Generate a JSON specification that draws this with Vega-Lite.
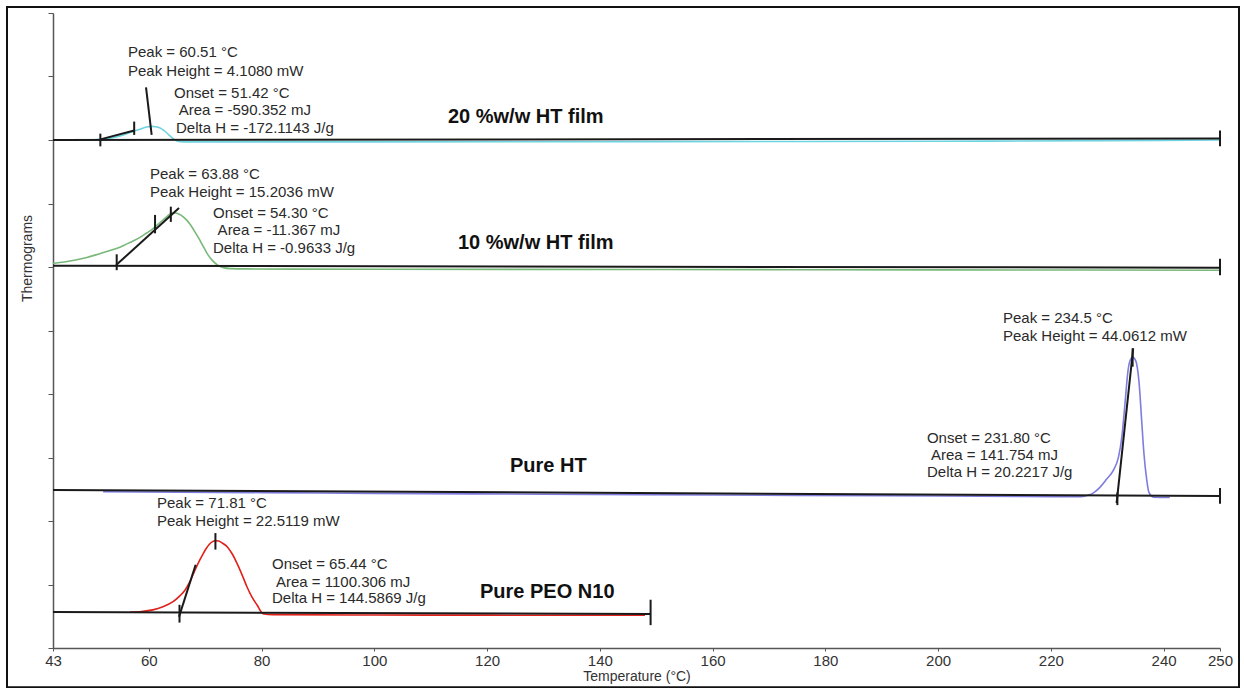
{
  "$schema": "https://vega.github.io/schema/vega-lite/v6.json",
  "width": 1167,
  "height": 635,
  "autosize": {"type": "none"},
  "padding": {"left": 53, "top": 13, "right": 24, "bottom": 40},
  "background": "white",
  "config": {
    "view": {"stroke": null},
    "font": "Liberation Sans",
    "axis": {"grid": false}
  },
  "datasets": {
    "curves": [
      {"s":"c20","T":47.3,"u":8.0},{"s":"c20","T":49.5,"u":8.0},{"s":"c20","T":51.3,"u":8.01},{"s":"c20","T":53.1,"u":8.03},{"s":"c20","T":54.9,"u":8.065},{"s":"c20","T":56.1,"u":8.1},{"s":"c20","T":57.2,"u":8.135},{"s":"c20","T":58.4,"u":8.17},{"s":"c20","T":59.6,"u":8.205},{"s":"c20","T":60.5,"u":8.215},{"s":"c20","T":61.2,"u":8.21},{"s":"c20","T":62.0,"u":8.19},{"s":"c20","T":62.6,"u":8.155},{"s":"c20","T":63.2,"u":8.11},{"s":"c20","T":63.8,"u":8.06},{"s":"c20","T":64.3,"u":8.02},{"s":"c20","T":65.0,"u":7.985},{"s":"c20","T":65.5,"u":7.975},{"s":"c20","T":67,"u":7.97},{"s":"c20","T":100,"u":7.97},{"s":"c20","T":150,"u":7.975},{"s":"c20","T":200,"u":7.98},{"s":"c20","T":230,"u":7.99},{"s":"c20","T":250,"u":8.0},
      {"s":"c10","T":43.0,"u":6.06},{"s":"c10","T":45,"u":6.08},{"s":"c10","T":47,"u":6.11},{"s":"c10","T":49,"u":6.15},{"s":"c10","T":51.3,"u":6.21},{"s":"c10","T":53,"u":6.255},{"s":"c10","T":54.5,"u":6.3},{"s":"c10","T":56,"u":6.36},{"s":"c10","T":57.2,"u":6.41},{"s":"c10","T":58.5,"u":6.47},{"s":"c10","T":59.7,"u":6.54},{"s":"c10","T":60.7,"u":6.6},{"s":"c10","T":61.6,"u":6.67},{"s":"c10","T":62.5,"u":6.74},{"s":"c10","T":63.3,"u":6.8},{"s":"c10","T":64.0,"u":6.845},{"s":"c10","T":64.7,"u":6.85},{"s":"c10","T":65.4,"u":6.83},{"s":"c10","T":66.1,"u":6.79},{"s":"c10","T":66.8,"u":6.73},{"s":"c10","T":67.5,"u":6.65},{"s":"c10","T":68.2,"u":6.55},{"s":"c10","T":69.0,"u":6.43},{"s":"c10","T":69.8,"u":6.3},{"s":"c10","T":70.5,"u":6.19},{"s":"c10","T":71.3,"u":6.1},{"s":"c10","T":72.2,"u":6.03},{"s":"c10","T":73.2,"u":5.99},{"s":"c10","T":74.5,"u":5.975},{"s":"c10","T":77,"u":5.97},{"s":"c10","T":100,"u":5.965},{"s":"c10","T":150,"u":5.96},{"s":"c10","T":200,"u":5.955},{"s":"c10","T":250,"u":5.95},
      {"s":"cHT","T":51.9,"u":2.46},{"s":"cHT","T":80,"u":2.447},{"s":"cHT","T":100,"u":2.435},{"s":"cHT","T":130,"u":2.422},{"s":"cHT","T":160,"u":2.41},{"s":"cHT","T":190,"u":2.398},{"s":"cHT","T":215,"u":2.388},{"s":"cHT","T":225.2,"u":2.382},{"s":"cHT","T":226.4,"u":2.4},{"s":"cHT","T":227.5,"u":2.44},{"s":"cHT","T":228.7,"u":2.53},{"s":"cHT","T":229.9,"u":2.66},{"s":"cHT","T":231.1,"u":2.8},{"s":"cHT","T":232.0,"u":3.01},{"s":"cHT","T":232.6,"u":3.33},{"s":"cHT","T":233.15,"u":3.85},{"s":"cHT","T":233.7,"u":4.38},{"s":"cHT","T":234.1,"u":4.54},{"s":"cHT","T":234.5,"u":4.58},{"s":"cHT","T":234.9,"u":4.55},{"s":"cHT","T":235.2,"u":4.48},{"s":"cHT","T":235.7,"u":4.12},{"s":"cHT","T":236.1,"u":3.59},{"s":"cHT","T":236.5,"u":3.07},{"s":"cHT","T":237.0,"u":2.65},{"s":"cHT","T":237.4,"u":2.45},{"s":"cHT","T":238.2,"u":2.375},{"s":"cHT","T":241.1,"u":2.37},
      {"s":"cPEO","T":56.7,"u":0.567},{"s":"cPEO","T":58.7,"u":0.575},{"s":"cPEO","T":60.7,"u":0.6},{"s":"cPEO","T":62.5,"u":0.65},{"s":"cPEO","T":64.3,"u":0.73},{"s":"cPEO","T":65.5,"u":0.82},{"s":"cPEO","T":66.4,"u":0.91},{"s":"cPEO","T":67.3,"u":1.05},{"s":"cPEO","T":68.2,"u":1.23},{"s":"cPEO","T":69.0,"u":1.38},{"s":"cPEO","T":69.6,"u":1.48},{"s":"cPEO","T":70.2,"u":1.57},{"s":"cPEO","T":70.7,"u":1.63},{"s":"cPEO","T":71.3,"u":1.675},{"s":"cPEO","T":71.8,"u":1.69},{"s":"cPEO","T":72.4,"u":1.685},{"s":"cPEO","T":72.9,"u":1.66},{"s":"cPEO","T":73.9,"u":1.595},{"s":"cPEO","T":74.8,"u":1.48},{"s":"cPEO","T":75.6,"u":1.34},{"s":"cPEO","T":76.5,"u":1.16},{"s":"cPEO","T":77.4,"u":0.965},{"s":"cPEO","T":78.3,"u":0.8},{"s":"cPEO","T":79.2,"u":0.677},{"s":"cPEO","T":80.25,"u":0.54},{"s":"cPEO","T":82,"u":0.525},{"s":"cPEO","T":100,"u":0.52},{"s":"cPEO","T":120,"u":0.517},{"s":"cPEO","T":148,"u":0.515}
    ],
    "segments": [
      {"a":43,"b":8.0,"a2":250,"b2":8.025},
      {"a":51.4,"b":8.1,"a2":51.4,"b2":7.9},
      {"a":51.4,"b":8.01,"a2":57.4,"b2":8.15},
      {"a":57.4,"b":8.29,"a2":57.4,"b2":8.08},
      {"a":59.5,"b":8.83,"a2":60.5,"b2":8.08},
      {"a":250,"b":8.15,"a2":250,"b2":7.9},
      {"a":43,"b":6.02,"a2":250,"b2":5.99},
      {"a":54.3,"b":6.2,"a2":54.3,"b2":5.95},
      {"a":54.2,"b":6.03,"a2":65.35,"b2":6.93},
      {"a":61.1,"b":6.82,"a2":61.1,"b2":6.53},
      {"a":63.9,"b":6.95,"a2":63.9,"b2":6.71},
      {"a":250,"b":6.13,"a2":250,"b2":5.87},
      {"a":43,"b":2.488,"a2":250,"b2":2.394},
      {"a":231.66,"b":2.28,"a2":234.6,"b2":4.72},
      {"a":231.8,"b":2.45,"a2":231.8,"b2":2.25},
      {"a":234.5,"b":4.72,"a2":234.5,"b2":4.43},
      {"a":250,"b":2.52,"a2":250,"b2":2.27},
      {"a":43,"b":0.567,"a2":149,"b2":0.535},
      {"a":65.44,"b":0.68,"a2":65.44,"b2":0.4},
      {"a":65.35,"b":0.49,"a2":68.3,"b2":1.31},
      {"a":71.81,"b":1.81,"a2":71.81,"b2":1.55},
      {"a":149,"b":0.76,"a2":149,"b2":0.36}
    ],
    "notes": [
      {"T":56.3,"u":9.386,"t":"Peak = 60.51 °C"},
      {"T":56.3,"u":9.087,"t":"Peak Height  = 4.1080 mW"},
      {"T":64.46,"u":8.74,"t":"Onset = 51.42 °C"},
      {"T":65.3,"u":8.47,"t":"Area = -590.352 mJ"},
      {"T":64.82,"u":8.19,"t":"Delta H = -172.1143 J/g"},
      {"T":60.2,"u":7.465,"t":"Peak = 63.88 °C"},
      {"T":60.2,"u":7.18,"t":"Peak Height  = 15.2036 mW"},
      {"T":71.38,"u":6.85,"t":"Onset = 54.30 °C"},
      {"T":72.2,"u":6.58,"t":"Area = -11.367 mJ"},
      {"T":71.38,"u":6.3,"t":"Delta H = -0.9633 J/g"},
      {"T":211.5,"u":5.197,"t":"Peak = 234.5 °C"},
      {"T":211.5,"u":4.913,"t":"Peak Height  = 44.0612 mW"},
      {"T":198.02,"u":3.307,"t":"Onset = 231.80 °C"},
      {"T":198.73,"u":3.039,"t":"Area = 141.754 mJ"},
      {"T":198.02,"u":2.772,"t":"Delta H = 20.2217 J/g"},
      {"T":61.45,"u":2.283,"t":"Peak = 71.81 °C"},
      {"T":61.45,"u":2.0,"t":"Peak Height  = 22.5119 mW"},
      {"T":81.84,"u":1.323,"t":"Onset = 65.44 °C"},
      {"T":82.55,"u":1.04,"t":"Area = 1100.306 mJ"},
      {"T":81.84,"u":0.787,"t":"Delta H = 144.5869 J/g"}
    ],
    "names": [
      {"T":113.06,"u":8.36,"t":"20 %w/w HT film"},
      {"T":114.83,"u":6.38,"t":"10 %w/w HT film"},
      {"T":124.06,"u":2.866,"t":"Pure HT"},
      {"T":118.74,"u":0.882,"t":"Pure PEO N10"}
    ]
  },
  "layer": [
    {
      "data": {"values": [{}]},
      "mark": {"type": "rect", "fill": null, "stroke": "#111", "strokeWidth": 2, "clip": false},
      "encoding": {
        "x": {"datum": 34.84, "type": "quantitative", "scale": {"domain": [43, 250], "nice": false, "zero": false}},
        "x2": {"datum": 253.37},
        "y": {"datum": 10.094, "type": "quantitative", "scale": {"domain": [0, 10], "nice": false, "zero": false}},
        "y2": {"datum": -0.62}
      }
    },
    {
      "data": {"name": "curves"},
      "mark": {"type": "line", "interpolate": "monotone"},
      "encoding": {
        "x": {"field": "T", "type": "quantitative", "scale": {"domain": [43, 250], "nice": false, "zero": false},
          "axis": {"values": [43,60,80,100,120,140,160,180,200,220,240,250], "title": "Temperature (°C)",
            "domainColor": "#555", "domainWidth": 1.5, "tickColor": "#555", "tickSize": 3,
            "labelFontSize": 15, "labelColor": "#333", "labelPadding": 2, "labelFlush": false,
            "titleFontSize": 14, "titleFontWeight": "normal", "titleColor": "#333", "titlePadding": 1}},
        "y": {"field": "u", "type": "quantitative", "scale": {"domain": [0, 10], "nice": false, "zero": false},
          "axis": {"values": [0,1,2,3,4,5,6,7,8,9,10], "labels": false, "title": "Thermograms",
            "domainColor": "#555", "domainWidth": 1.5, "tickColor": "#555", "tickSize": 5,
            "titleFontSize": 14, "titleFontWeight": "normal", "titleColor": "#333",
            "titleX": -19, "titleY": 245}},
        "color": {"field": "s", "type": "nominal", "legend": null,
          "scale": {"domain": ["c20","c10","cHT","cPEO"], "range": ["#6fd3e0","#78b878","#7f7ce0","#e02019"]}},
        "strokeWidth": {"field": "s", "type": "nominal", "legend": null,
          "scale": {"domain": ["c20","c10","cHT","cPEO"], "range": [1.6,1.6,2.2,3.2]}},
        "detail": {"field": "s"}
      }
    },
    {
      "data": {"name": "segments"},
      "mark": {"type": "rule", "color": "#1a1a1a", "strokeWidth": 2},
      "encoding": {
        "x": {"field": "a", "type": "quantitative"},
        "x2": {"field": "a2"},
        "y": {"field": "b", "type": "quantitative"},
        "y2": {"field": "b2"}
      }
    },
    {
      "data": {"name": "notes"},
      "mark": {"type": "text", "align": "left", "baseline": "middle", "fontSize": 15, "color": "#2a2a2a", "font": "Liberation Sans"},
      "encoding": {
        "x": {"field": "T", "type": "quantitative"},
        "y": {"field": "u", "type": "quantitative"},
        "text": {"field": "t"}
      }
    },
    {
      "data": {"name": "names"},
      "mark": {"type": "text", "align": "left", "baseline": "middle", "fontSize": 20, "fontWeight": "bold", "color": "#111", "font": "Liberation Sans"},
      "encoding": {
        "x": {"field": "T", "type": "quantitative"},
        "y": {"field": "u", "type": "quantitative"},
        "text": {"field": "t"}
      }
    }
  ]
}
